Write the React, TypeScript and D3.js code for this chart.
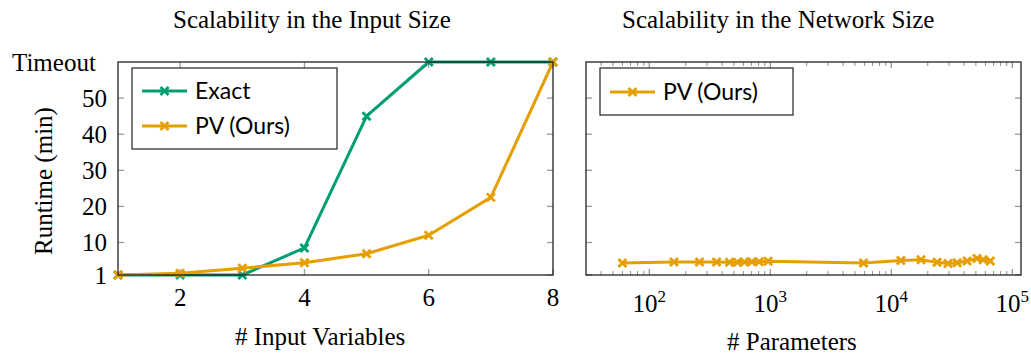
import React from "react";
import * as d3 from "d3";

const inputVars = [1, 2, 3, 4, 5, 6, 7, 8];
const exactRuntime = [1, 1, 1, 8.5, 45, 60, 60, 60];
const pvRuntime = [1, 1.5, 2.9, 4.4, 6.9, 12, 22.5, 60];

const networkParams = [60, 160, 260, 360, 460, 535, 610, 705, 810, 960, 5900, 12000, 17600, 23900, 29400, 35000, 42300, 51000, 57500, 65800];
const pvNetworkRuntime = [4.3, 4.6, 4.6, 4.6, 4.5, 4.5, 4.6, 4.7, 4.7, 4.8, 4.3, 5.0, 5.2, 4.5, 4.2, 4.4, 4.9, 5.6, 5.2, 4.9];

const yTicks = [1, 10, 20, 30, 40, 50];
const yTimeout = 60;
const xTicksLeft = [2, 4, 6, 8];
const xTicksRightExp = [2, 3, 4, 5];

const titles = ["Scalability in the Input Size", "Scalability in the Network Size"];
const xLabels = ["# Input Variables", "# Parameters"];
const yLabel = "Runtime (min)";
const seriesNames = ["Exact", "PV (Ours)"];

const GREEN = "#009E73";
const ORANGE = "#E69F00";
const SERIF = "'Liberation Serif', 'DejaVu Serif', serif";
const SANS = "Lato, 'Open Sans', sans-serif";
const TICK = "#9a9a9a";
const FRAME = "#222";
const FS = 25;

const T = 62, B = 275;
const L1 = 118, R1 = 553;
const L2 = 586, R2 = 1021;

function Cross({ x, y, color }: { x: number; y: number; color: string }) {
  const s = 4;
  return (
    <g stroke={color} strokeWidth={2.8} strokeLinecap="butt">
      <line x1={x - s} y1={y - s} x2={x + s} y2={y + s} />
      <line x1={x - s} y1={y + s} x2={x + s} y2={y - s} />
    </g>
  );
}

export default function App() {
  const y = d3.scaleLinear().domain([1, 60]).range([B, T]);
  const x1 = d3.scaleLinear().domain([1, 8]).range([L1, R1]);
  const x2 = d3.scaleLog().domain([30, 118000]).range([L2, R2]);

  const lineL = (xs: number[], ys: number[]) =>
    d3.line<number>().x((_, i) => x1(xs[i])).y((v) => y(v))(ys) || "";
  const lineR = (xs: number[], ys: number[]) =>
    d3.line<number>().x((_, i) => x2(xs[i])).y((v) => y(v))(ys) || "";

  const majorLen = 6, minorLen = 4;

  const yTickMarks = (L: number, R: number) =>
    yTicks.map((t) => (
      <g key={"yt" + t} stroke={TICK} strokeWidth={1.3}>
        <line x1={L} x2={L + majorLen} y1={y(t)} y2={y(t)} />
        <line x1={R} x2={R - majorLen} y1={y(t)} y2={y(t)} />
      </g>
    ));

  const minorTicks: number[] = [];
  for (let e = 1; e <= 5; e++) {
    for (let m = 2; m <= 9; m++) {
      const v = m * Math.pow(10, e);
      if (v > 30 && v < 118000) minorTicks.push(v);
    }
  }

  return (
    <svg width={1031} height={356} style={{ position: "absolute", left: 0, top: 0 }}>
      <rect width={1031} height={356} fill="#fff" />
      {/* Titles */}
      <text x={173} y={28} fontFamily={SERIF} fontSize={FS}>{titles[0]}</text>
      <text x={622} y={28} fontFamily={SERIF} fontSize={FS}>{titles[1]}</text>

      {/* Left plot ticks */}
      {yTickMarks(L1, R1)}
      {xTicksLeft.map((t) => (
        <g key={"xt" + t} stroke={TICK} strokeWidth={1.3}>
          <line x1={x1(t)} x2={x1(t)} y1={B} y2={B - majorLen} />
          <line x1={x1(t)} x2={x1(t)} y1={T} y2={T + majorLen} />
        </g>
      ))}
      {/* Right plot ticks */}
      {yTickMarks(L2, R2)}
      {xTicksRightExp.map((e) => (
        <g key={"xe" + e} stroke={TICK} strokeWidth={1.3}>
          <line x1={x2(Math.pow(10, e))} x2={x2(Math.pow(10, e))} y1={B} y2={B - majorLen} />
          <line x1={x2(Math.pow(10, e))} x2={x2(Math.pow(10, e))} y1={T} y2={T + majorLen} />
        </g>
      ))}
      {minorTicks.map((v) => (
        <g key={"mt" + v} stroke={TICK} strokeWidth={1.1}>
          <line x1={x2(v)} x2={x2(v)} y1={B} y2={B - minorLen} />
          <line x1={x2(v)} x2={x2(v)} y1={T} y2={T + minorLen} />
        </g>
      ))}

      {/* Left plot series */}
      <path d={lineL(inputVars, exactRuntime)} fill="none" stroke={GREEN} strokeWidth={3} strokeLinejoin="round" />
      {inputVars.map((v, i) => <Cross key={"ge" + i} x={x1(v)} y={y(exactRuntime[i])} color={GREEN} />)}
      <path d={lineL(inputVars, pvRuntime)} fill="none" stroke={ORANGE} strokeWidth={3} strokeLinejoin="round" />
      {inputVars.map((v, i) => <Cross key={"po" + i} x={x1(v)} y={y(pvRuntime[i])} color={ORANGE} />)}

      {/* Right plot series */}
      <path d={lineR(networkParams, pvNetworkRuntime)} fill="none" stroke={ORANGE} strokeWidth={3} strokeLinejoin="round" />
      {networkParams.map((v, i) => <Cross key={"pr" + i} x={x2(v)} y={y(pvNetworkRuntime[i])} color={ORANGE} />)}

      {/* Frames */}
      <rect x={L1} y={T} width={R1 - L1} height={B - T} fill="none" stroke={FRAME} strokeWidth={1.3} />
      <rect x={L2} y={T} width={R2 - L2} height={B - T} fill="none" stroke={FRAME} strokeWidth={1.3} />

      {/* Y tick labels */}
      {yTicks.map((t) => (
        <text key={"yl" + t} x={107} y={y(t)} dy="0.35em" fontFamily={SERIF} fontSize={FS} textAnchor="end">{t}</text>
      ))}
      <text x={12} y={y(yTimeout)} dy="0.35em" fontFamily={SERIF} fontSize={FS}>Timeout</text>

      {/* X tick labels left */}
      {xTicksLeft.map((t) => (
        <text key={"xl" + t} x={x1(t)} y={306} fontFamily={SERIF} fontSize={FS} textAnchor="middle">{t}</text>
      ))}
      {/* X tick labels right */}
      {xTicksRightExp.map((e) => (
        <text key={"xr" + e} x={x2(Math.pow(10, e))} y={312} fontFamily={SERIF} fontSize={FS} textAnchor="middle">
          10<tspan dy={-10} fontSize={17}>{e}</tspan>
        </text>
      ))}

      {/* Axis labels */}
      <text x={235} y={345} fontFamily={SERIF} fontSize={FS}>{xLabels[0]}</text>
      <text x={727} y={350} fontFamily={SERIF} fontSize={FS}>{xLabels[1]}</text>
      <text transform={`translate(52,255) rotate(-90)`} fontFamily={SERIF} fontSize={FS}>{yLabel}</text>

      {/* Legend left */}
      <rect x={132} y={68} width={205} height={81} fill="#fff" stroke={FRAME} strokeWidth={1.2} />
      <line x1={142} x2={187} y1={91} y2={91} stroke={GREEN} strokeWidth={3} />
      <Cross x={164.5} y={91} color={GREEN} />
      <text x={195} y={91} dy="0.36em" fontFamily={SANS} fontSize={23}>{seriesNames[0]}</text>
      <line x1={142} x2={187} y1={126} y2={126} stroke={ORANGE} strokeWidth={3} />
      <Cross x={164.5} y={126} color={ORANGE} />
      <text x={195} y={126} dy="0.36em" fontFamily={SANS} fontSize={23}>{seriesNames[1]}</text>

      {/* Legend right */}
      <rect x={600} y={68} width={193} height={47} fill="#fff" stroke={FRAME} strokeWidth={1.2} />
      <line x1={610} x2={655} y1={92} y2={92} stroke={ORANGE} strokeWidth={3} />
      <Cross x={632.5} y={92} color={ORANGE} />
      <text x={663} y={92} dy="0.36em" fontFamily={SANS} fontSize={23}>{seriesNames[1]}</text>
    </svg>
  );
}
